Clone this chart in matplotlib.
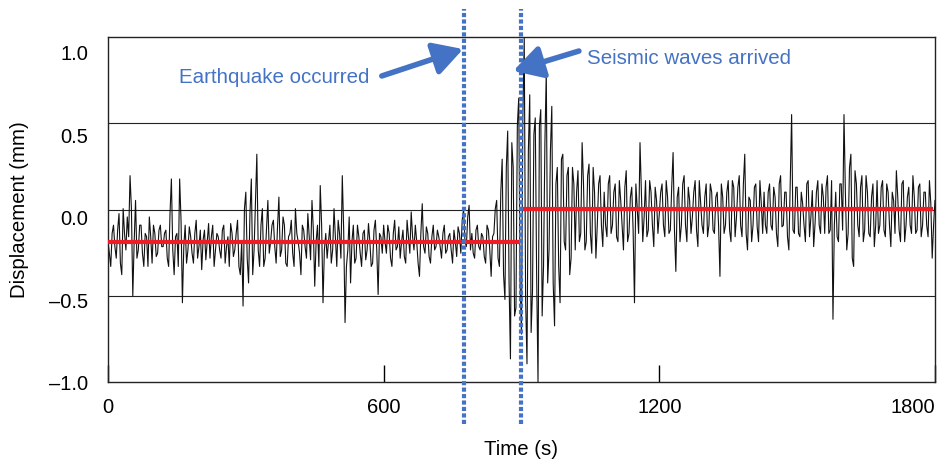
import numpy as np
import matplotlib
matplotlib.use("Agg")
import matplotlib.pyplot as plt

plt.rcParams['font.family'] = ['Liberation Sans', 'DejaVu Sans']

# displacement (mm), samples at t = 0, 6, 12, ... s
disp_even = [
    # 0-114 s
    -0.15, -0.30, -0.05, -0.25, 0.02, -0.35, -0.10, 0.00, 0.25, -0.48, 0.10, -0.20, -0.05, -0.30, -0.12, 0.00, -0.28, -0.10, -0.22, -0.05,
    # 120-234 s
    -0.18, -0.08, -0.30, 0.23, -0.35, -0.10, 0.23, -0.52, -0.05, -0.20, -0.12, -0.28, -0.02, -0.18, -0.32, -0.08, -0.15, -0.25, -0.05, -0.20,
    # 240-354 s
    -0.12, -0.25, -0.05, -0.18, -0.30, -0.10, -0.20, -0.02, -0.35, -0.54, 0.15, -0.40, 0.23, -0.20, 0.38, -0.30, 0.05, -0.25, 0.10, -0.15,
    # 360-474 s
    -0.02, -0.28, 0.12, -0.20, -0.05, -0.30, -0.10, -0.22, 0.05, -0.15, -0.35, -0.08, -0.25, -0.12, 0.10, -0.42, -0.05, 0.19, -0.52, -0.10,
    # 480-594 s
    -0.15, -0.28, 0.05, -0.30, -0.10, 0.25, -0.64, -0.20, -0.40, -0.05, -0.25, -0.12, -0.30, -0.08, -0.20, -0.15, -0.28, -0.02, -0.47, -0.12,
    # 600-714 s
    -0.05, -0.22, -0.10, -0.30, -0.02, -0.18, -0.25, -0.08, -0.28, -0.12, 0.03, -0.20, -0.15, -0.36, 0.08, -0.22, -0.10, -0.28, -0.05, -0.18,
    # 720-834 s
    -0.12, -0.25, -0.05, -0.20, -0.10, -0.28, -0.15, -0.06, -0.22, 0.05, -0.18, 0.07, -0.10, -0.25, -0.05, -0.20, -0.12, -0.28, -0.08, -0.36,
    # 840-954 s
    -0.10, 0.10, -0.30, 0.35, -0.50, 0.52, -0.86, 0.30, -0.55, 0.72, -0.71, 1.09, -0.89, 0.74, -0.45, 0.60, -1.00, 0.65, -0.30, 0.88,
    # 960-1074 s
    -0.20, 0.67, -0.66, 0.30, -0.52, 0.38, -0.20, 0.30, -0.25, 0.20, 0.15, -0.15, 0.45, -0.20, 0.25, -0.10, 0.30, -0.25, 0.20, -0.05,
    # 1080-1194 s
    0.15, -0.12, 0.25, -0.05, 0.20, -0.15, 0.10, -0.20, 0.28, -0.10, 0.18, -0.52, 0.05, 0.45, -0.15, 0.22, -0.08, 0.15, -0.18, 0.10,
    # 1200-1314 s
    0.02, 0.20, -0.12, 0.12, -0.08, 0.39, -0.33, 0.18, -0.05, 0.25, -0.15, 0.10, 0.00, 0.22, -0.18, 0.08, -0.10, 0.20, -0.05, 0.15,
    # 1320-1434 s
    -0.10, 0.15, -0.36, 0.12, -0.05, 0.22, -0.15, 0.18, 0.00, 0.25, -0.12, 0.38, -0.20, 0.10, -0.05, 0.20, -0.15, 0.08, 0.15, -0.10,
    # 1440-1554 s
    0.20, -0.08, 0.12, -0.18, 0.25, -0.05, 0.15, -0.20, 0.62, -0.10, 0.18, -0.12, 0.08, -0.15, 0.22, 0.00, -0.18, 0.15, -0.05, 0.20,
    # 1560-1674 s
    -0.10, 0.25, -0.08, -0.62, 0.15, -0.15, 0.20, 0.62, -0.20, 0.30, -0.25, 0.28, -0.05, 0.18, -0.15, 0.25, -0.10, 0.12, -0.18, 0.22,
    # 1680-1794 s
    -0.05, 0.22, -0.12, 0.15, -0.18, 0.10, 0.28, -0.08, 0.20, -0.15, 0.12, -0.05, 0.25, -0.10, 0.18, -0.12, 0.15, -0.05, 0.22, -0.25,
    # 1800 s
    0.10,
]
# samples in between, at t = 3, 9, 15, ... s
disp_odd = [
    -0.22, -0.10, -0.18, -0.08, -0.28, 0.05, -0.20, -0.12, 0.05, -0.15, -0.25, -0.05, -0.22, -0.10, -0.30, -0.12, -0.05, -0.24, -0.08, -0.18,
    -0.10, -0.25, 0.02, -0.20, -0.12, -0.30, -0.02, -0.18, -0.28, -0.06, -0.22, -0.10, -0.25, -0.08, -0.14, -0.26, -0.04, -0.12, -0.30, -0.10,
    -0.20, -0.08, -0.28, -0.12, -0.04, -0.24, -0.10, -0.30, -0.15, 0.05, -0.25, 0.02, -0.35, 0.08, -0.20, -0.05, -0.30, -0.08, -0.22, -0.05,
    -0.18, -0.06, -0.24, 0.00, -0.28, -0.12, -0.02, -0.30, -0.10, -0.22, -0.05, -0.18, 0.02, -0.26, -0.08, -0.15, -0.30, -0.05, -0.20, -0.25,
    -0.05, -0.20, -0.12, -0.02, -0.25, -0.08, -0.30, 0.00, -0.15, -0.28, -0.05, -0.22, -0.10, -0.26, -0.04, -0.30, -0.08, -0.20, -0.10, -0.22,
    -0.15, -0.05, -0.25, -0.10, -0.20, -0.06, -0.15, -0.24, -0.02, -0.22, -0.12, -0.05, -0.28, -0.10, -0.18, -0.06, -0.24, -0.12, -0.20, -0.08,
    -0.18, -0.10, -0.22, -0.12, -0.20, -0.08, -0.24, -0.10, -0.02, -0.15, 0.00, -0.20, -0.22, -0.08, -0.18, -0.10, -0.24, -0.05, -0.20, -0.12,
    0.05, -0.25, 0.15, -0.35, 0.30, -0.40, 0.45, -0.60, 0.55, -0.40, 0.60, -0.50, 0.40, -0.70, 0.50, -0.35, 0.55, -0.60, 0.45, -0.40,
    0.40, -0.40, 0.20, -0.30, 0.35, -0.15, 0.25, -0.35, 0.30, -0.20, 0.28, -0.10, 0.20, -0.15, 0.32, -0.22, 0.15, -0.05, 0.25, -0.18,
    -0.05, 0.20, -0.10, 0.15, -0.12, 0.22, -0.05, 0.18, -0.15, 0.12, -0.08, 0.20, -0.10, 0.15, 0.00, -0.12, 0.22, -0.05, 0.18, -0.10,
    0.15, -0.05, 0.22, -0.10, 0.18, -0.08, 0.12, -0.15, 0.20, -0.05, 0.18, -0.10, 0.15, -0.08, 0.22, -0.05, 0.12, -0.12, 0.20, -0.08,
    0.12, -0.05, 0.20, -0.10, 0.15, -0.08, 0.22, -0.12, 0.18, -0.05, 0.20, -0.10, 0.12, -0.15, 0.18, -0.06, 0.22, -0.10, -0.05, 0.15,
    -0.05, 0.18, -0.10, 0.20, -0.06, 0.15, -0.12, 0.22, -0.08, 0.18, -0.10, 0.15, -0.05, 0.20, -0.12, 0.16, -0.04, 0.22, -0.10, 0.12,
    0.18, -0.10, 0.22, -0.05, -0.12, 0.20, -0.08, 0.15, -0.10, 0.38, -0.30, 0.20, -0.12, 0.25, -0.08, 0.15, -0.12, 0.20, -0.05, -0.10,
    0.18, -0.08, 0.20, -0.05, 0.15, -0.10, 0.12, -0.15, 0.22, -0.05, 0.18, -0.10, 0.12, -0.08, 0.20, -0.05, 0.15, -0.12, 0.08, -0.05,
]
step_s = 3
displacement = np.empty(len(disp_even) + len(disp_odd))
displacement[0::2] = disp_even
displacement[1::2] = disp_odd
time_s = np.arange(len(displacement)) * step_s

# mean levels before / after the arrival
level_start = [0, 903]
level_end = [897, 1795]
level_value = [-0.15, 0.05]

quake_time = 774
arrival_time = 899

grid_levels = [0.57, 0.04, -0.48]
xticks = [0, 600, 1200, 1800]
yticks = [-1.0, -0.5, 0.0, 0.5, 1.0]

blue = '#4472C4'

fig = plt.figure(figsize=(9.39, 4.64), dpi=100)
ax = fig.add_axes([0.115, 0.1746, 0.8807, 0.7435])

for g in grid_levels:
    ax.axhline(g, color='#222222', lw=0.8, zorder=1)

ax.plot(time_s, displacement, color='#111111', lw=0.8, zorder=2)

for s, e, v in zip(level_start, level_end, level_value):
    ax.plot([s, e], [v, v], color='#EE1C25', lw=3, solid_capstyle='butt', zorder=3)

for t in (quake_time, arrival_time):
    ax.plot([t, t], [-1.255, 1.26], color=blue, lw=3, linestyle=(0, (1, 0.55)),
            dash_capstyle='butt', clip_on=False, zorder=4)

ax.set_xlim(0, 1800)
ax.set_ylim(-1.0, 1.09)
ax.set_xticks(xticks)
ax.set_yticks(yticks)
ax.set_yticklabels([f'{v:.1f}'.replace('-', '\u2013') for v in yticks])
ax.tick_params(axis='x', direction='in', length=12, width=1, pad=11, labelsize=14.5)
ax.tick_params(axis='y', length=0, pad=14, labelsize=14.5)
ax.get_xticklabels()[-1].set_horizontalalignment('right')
for sp in ax.spines.values():
    sp.set_linewidth(1)
    sp.set_color('#222222')

fig.text(20 / 939, 1 - 210 / 464, 'Displacement (mm)', rotation=90,
         ha='center', va='center', fontsize=14.7)
fig.text(521 / 939, 1 - 450 / 464, 'Time (s)', ha='center', va='center', fontsize=14.7)

arrow = dict(arrowstyle='-|>,head_length=0.8,head_width=0.45', color=blue, lw=4,
             mutation_scale=22, shrinkA=0, shrinkB=0)
ax.annotate('', xy=(773, 1.017), xytext=(596, 0.854), arrowprops=arrow)
ax.annotate('', xy=(882, 0.884), xytext=(1025, 1.005), arrowprops=arrow)
ax.text(570, 0.848, 'Earthquake occurred', color=blue, fontsize=14.8, ha='right', va='center')
ax.text(1043, 0.963, 'Seismic waves arrived', color=blue, fontsize=14.8, ha='left', va='center')

fig.savefig('out.png', dpi=100)
